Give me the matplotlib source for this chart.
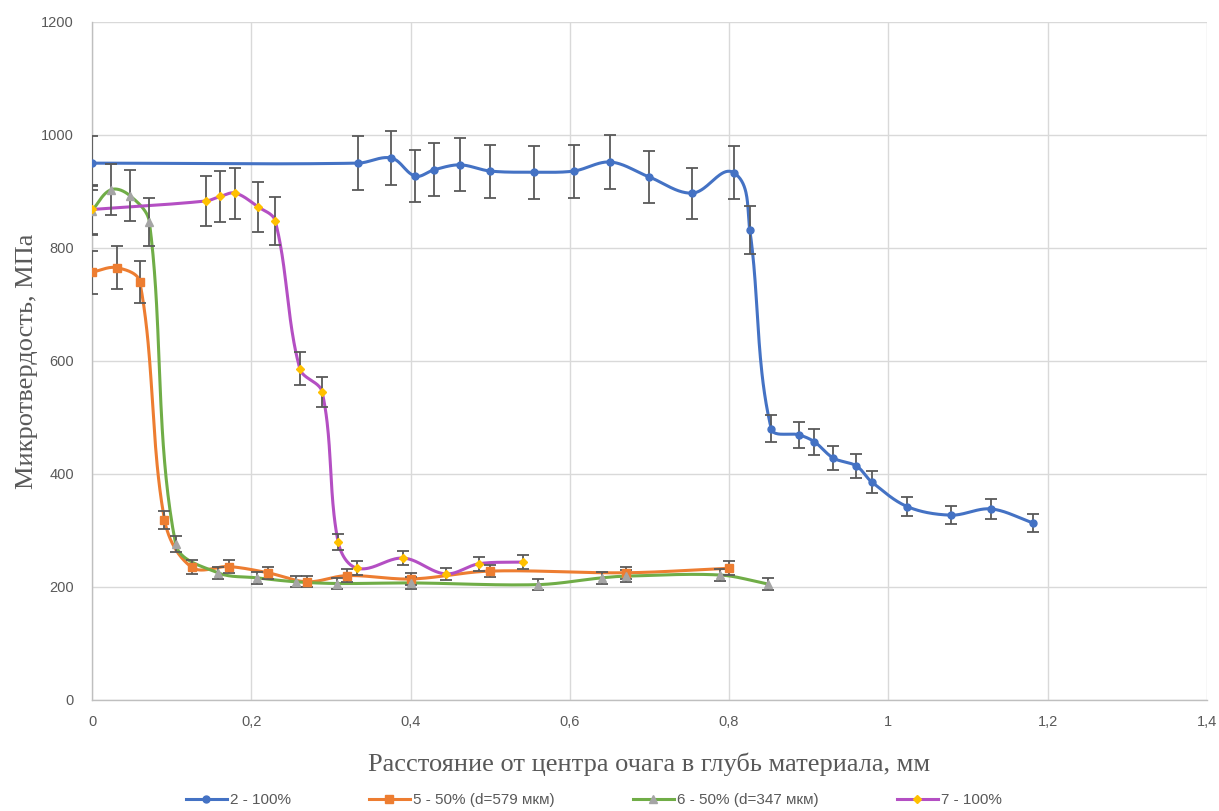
import numpy as np
import matplotlib
matplotlib.use("Agg")
import matplotlib.pyplot as plt
from matplotlib.lines import Line2D
from matplotlib.ticker import FuncFormatter

# series "2 - 100%"
blue_x = [0, 0.334, 0.376, 0.406, 0.429, 0.462, 0.500, 0.555, 0.605, 0.651, 0.699, 0.754,
          0.806, 0.826, 0.853, 0.888, 0.907, 0.931, 0.960, 0.979, 1.024, 1.079, 1.129, 1.182]
blue_y = [950, 950, 959, 927, 938, 947, 936, 934, 936, 952, 926, 897,
          933, 832, 480, 469, 457, 428, 414, 386, 342, 327, 338, 313]
blue_err = [48, 48, 48, 46, 47, 47, 47, 47, 47, 48, 46, 45,
            47, 42, 24, 23, 23, 21, 21, 19, 17, 16, 17, 16]

# series "5 - 50% (d=579 мкм)"
orange_x = [0, 0.031, 0.060, 0.091, 0.125, 0.172, 0.221, 0.270, 0.320, 0.401, 0.500, 0.670, 0.800]
orange_y = [757, 765, 740, 319, 235, 236, 225, 209, 220, 214, 228, 225, 233]
orange_err = [38, 38, 37, 16, 12, 12, 11, 10, 11, 11, 11, 11, 12]

# series "6 - 50% (d=347 мкм)"
green_x = [0, 0.024, 0.048, 0.072, 0.105, 0.158, 0.207, 0.256, 0.308, 0.401, 0.560, 0.640, 0.670, 0.789, 0.849]
green_y = [866, 903, 892, 846, 276, 225, 216, 209, 206, 207, 204, 216, 219, 221, 205]
green_err = [43, 45, 45, 42, 14, 11, 11, 10, 10, 10, 10, 11, 11, 11, 10]

# series "7 - 100%"
purple_x = [0, 0.143, 0.161, 0.180, 0.208, 0.230, 0.261, 0.289, 0.309, 0.333, 0.391, 0.444, 0.486, 0.541]
purple_y = [868, 883, 891, 897, 873, 848, 586, 545, 280, 233, 251, 223, 241, 244]
purple_err = [43, 44, 45, 45, 44, 42, 29, 27, 14, 12, 13, 11, 12, 12]

labels = ["2 - 100%", "5 - 50% (d=579 мкм)", "6 - 50% (d=347 мкм)", "7 - 100%"]

fig = plt.figure(figsize=(12.19, 8.11), dpi=100)
ax = fig.add_axes([0.0755, 0.137, 0.9145, 0.836])
ax.set_xlim(0, 1.4)
ax.set_ylim(0, 1200)


def smooth(xs, ys, n=40):
    # smoothed line like in Excel: bezier segments, tangents built in pixel space
    p = ax.transData.transform(np.column_stack([xs, ys]).astype(float))
    m = len(p)
    tang = []
    for i in range(m):
        a = p[max(i - 1, 0)]
        b = p[min(i + 1, m - 1)]
        d = b - a
        tang.append(d / (np.hypot(*d) + 1e-9))
    t = np.linspace(0, 1, n)[:, None]
    out = []
    for i in range(m - 1):
        p1, p2 = p[i], p[i + 1]
        L = np.hypot(*(p2 - p1))
        c1 = p1 + tang[i] * L / 3
        c2 = p2 - tang[i + 1] * L / 3
        out.append((1 - t) ** 3 * p1 + 3 * (1 - t) ** 2 * t * c1 + 3 * (1 - t) * t ** 2 * c2 + t ** 3 * p2)
    out = ax.transData.inverted().transform(np.vstack(out))
    return out[:, 0], out[:, 1]


series = [
    (blue_x, blue_y, blue_err, "#4472C4", "o", "#4472C4", 5),
    (orange_x, orange_y, orange_err, "#ED7D31", "s", "#ED7D31", 5.5),
    (green_x, green_y, green_err, "#70AD47", "^", "#A5A5A5", 5.5),
    (purple_x, purple_y, purple_err, "#B44FC3", "D", "#FFC000", 4.5),
]

handles = []
for (xs, ys, err, col, mk, mcol, ms), lab in zip(series, labels):
    sx, sy = smooth(xs, ys)
    ax.plot(sx, sy, color=col, lw=2.2, zorder=3, solid_capstyle="round")
    ax.errorbar(xs, ys, yerr=err, fmt="none", ecolor="#595959", elinewidth=1.3,
                capsize=4, capthick=1.3, zorder=4)
    ax.plot(xs, ys, ls="none", marker=mk, color=mcol, ms=ms, mec=mcol, zorder=5)
    handles.append(Line2D([0], [0], color=col, lw=2.2, marker=mk, mfc=mcol, mec=mcol, ms=ms))

ax.set_xticks(np.arange(0, 1.41, 0.2))
ax.set_yticks(np.arange(0, 1201, 200))
ax.xaxis.set_major_formatter(FuncFormatter(lambda v, p: ("%g" % round(v, 1)).replace(".", ",")))
ax.grid(True, color="#D9D9D9", lw=1.0)
ax.set_axisbelow(True)
for s in ["top", "right"]:
    ax.spines[s].set_visible(False)
for s in ["left", "bottom"]:
    ax.spines[s].set_color("#BFBFBF")
    ax.spines[s].set_linewidth(1.0)
ax.tick_params(length=0, labelsize=10.5, labelcolor="#595959")
ax.tick_params(axis="x", pad=11)
ax.tick_params(axis="y", pad=13)
for t in ax.get_xticklabels() + ax.get_yticklabels():
    t.set_fontfamily("Liberation Sans")

ax.set_xlabel("Расстояние от центра очага в глубь материала, мм", fontfamily="Liberation Serif",
              fontsize=19, color="#595959", labelpad=17)
ax.set_ylabel("Микротвердость, МПа", fontfamily="Liberation Serif",
              fontsize=19, color="#595959", labelpad=2)

leg = fig.legend(handles, labels, loc="lower center", bbox_to_anchor=(0.487, -0.012), ncol=4,
                 frameon=False, columnspacing=5.1, handlelength=2.7, handletextpad=0.2,
                 prop={"family": "Liberation Sans", "size": 11})
for t in leg.get_texts():
    t.set_color("#595959")

fig.savefig("out.png", dpi=100)
